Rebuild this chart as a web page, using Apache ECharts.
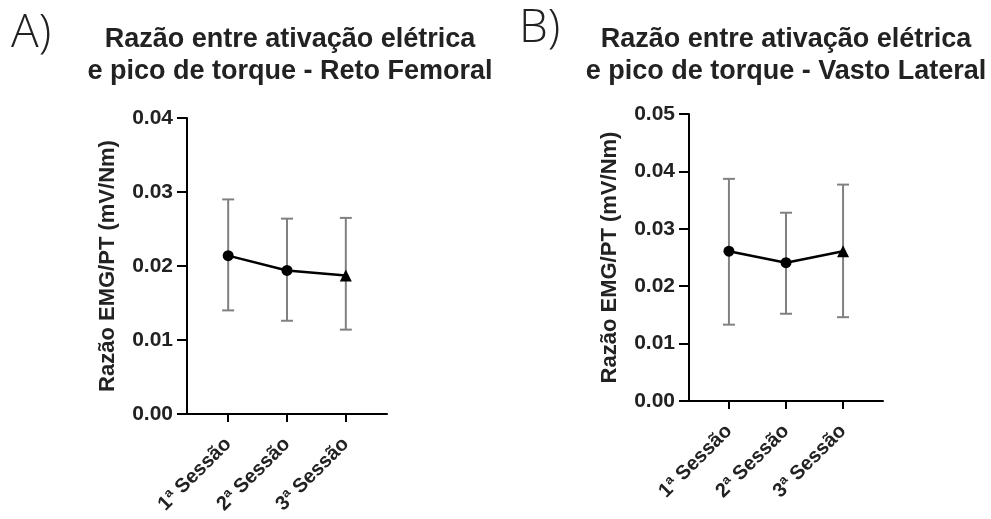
<!DOCTYPE html>
<html>
<head>
<meta charset="utf-8">
<script src="https://cdn.jsdelivr.net/npm/echarts@6.0.0/dist/echarts.min.js"></script>
<style>
  html, body { margin: 0; padding: 0; background: #fff; }
  #chart { width: 991px; height: 519px; }
</style>
</head>
<body>
<div id="chart"></div>
<script>
// sessions on the x axis
var sessoes = ['1ª Sessão', '2ª Sessão', '3ª Sessão'];
var simbolos = ['circle', 'circle', 'triangle'];

// A) Reto Femoral
var rfMedia = [0.0214, 0.0194, 0.0187];
var rfMin = [0.0140, 0.0126, 0.0114];
var rfMax = [0.0290, 0.0264, 0.0265];

// B) Vasto Lateral
var vlMedia = [0.0261, 0.0241, 0.0261];
var vlMin = [0.0133, 0.0152, 0.0146];
var vlMax = [0.0387, 0.0328, 0.0377];

var fonte = '"Liberation Sans", Arial, sans-serif';

function pontos(medias) {
    return medias.map(function (v, i) {
        return { value: [i, v], symbol: simbolos[i], symbolSize: simbolos[i] == 'triangle' ? 12 : 11 };
    });
}

function barras(mins, maxs) {
    return mins.map(function (v, i) { return [i, v, maxs[i]]; });
}

function renderBarra(params, api) {
    var lo = api.coord([api.value(0), api.value(1)]);
    var hi = api.coord([api.value(0), api.value(2)]);
    var w = 6;
    var estilo = { stroke: '#808080', lineWidth: 2 };
    return {
        type: 'group',
        children: [
            { type: 'line', shape: { x1: lo[0], y1: lo[1], x2: hi[0], y2: hi[1] }, style: estilo },
            { type: 'line', shape: { x1: lo[0] - w, y1: lo[1], x2: lo[0] + w, y2: lo[1] }, style: estilo },
            { type: 'line', shape: { x1: hi[0] - w, y1: hi[1], x2: hi[0] + w, y2: hi[1] }, style: estilo }
        ]
    };
}

function eixoX(idx) {
    return {
        type: 'value',
        gridIndex: idx,
        min: -0.7,
        max: 2.7,
        axisLine: { onZero: false, lineStyle: { color: '#000', width: 2 } },
        axisTick: { customValues: [0, 1, 2], length: 8, lineStyle: { color: '#000', width: 2 } },
        axisLabel: {
            customValues: [0, 1, 2],
            rotate: 45,
            margin: 27,
            color: '#222',
            fontFamily: fonte,
            fontWeight: 'bold',
            fontSize: 20,
            formatter: function (v) { return sessoes[v]; }
        },
        splitLine: { show: false }
    };
}

function eixoY(idx, max) {
    return {
        type: 'value',
        gridIndex: idx,
        min: 0,
        max: max,
        interval: 0.01,
        name: 'Razão EMG/PT (mV/Nm)',
        nameLocation: 'middle',
        nameGap: 68,
        nameTextStyle: { color: '#222', fontFamily: fonte, fontWeight: 'bold', fontSize: 22 },
        axisLine: { show: true, onZero: false, lineStyle: { color: '#000', width: 2 } },
        axisTick: { show: true, length: 10, lineStyle: { color: '#000', width: 2 } },
        axisLabel: {
            margin: 14,
            color: '#222',
            fontFamily: fonte,
            fontWeight: 'bold',
            fontSize: 21,
            formatter: function (v) { return v.toFixed(2); }
        },
        splitLine: { show: false }
    };
}

var tituloEstilo = { color: '#222', fontFamily: fonte, fontWeight: 'bold', fontSize: 27, lineHeight: 32 };
var letraEstilo = { color: '#222', fontFamily: '"Open Sans", sans-serif', fontWeight: 300, fontSize: 46 };

var chart = echarts.init(document.getElementById('chart'));
var option = {
    animation: false,
    title: [
        { text: 'A)', left: 6, top: 6, textStyle: letraEstilo },
        { text: 'B)', left: 514, top: 1, textStyle: letraEstilo },
        { text: 'Razão entre ativação elétrica\ne pico de torque - Reto Femoral', left: 285, top: 19, textAlign: 'center', textStyle: tituloEstilo },
        { text: 'Razão entre ativação elétrica\ne pico de torque - Vasto Lateral', left: 781, top: 19, textAlign: 'center', textStyle: tituloEstilo }
    ],
    grid: [
        { left: 187, top: 118, width: 200, height: 296 },
        { left: 689, top: 114, width: 194, height: 287 }
    ],
    xAxis: [eixoX(0), eixoX(1)],
    yAxis: [eixoY(0, 0.04), eixoY(1, 0.05)],
    series: [
        { type: 'custom', xAxisIndex: 0, yAxisIndex: 0, renderItem: renderBarra, data: barras(rfMin, rfMax), z: 1 },
        { type: 'line', xAxisIndex: 0, yAxisIndex: 0, data: pontos(rfMedia), z: 3,
          lineStyle: { color: '#000', width: 2.5 }, itemStyle: { color: '#000' } },
        { type: 'custom', xAxisIndex: 1, yAxisIndex: 1, renderItem: renderBarra, data: barras(vlMin, vlMax), z: 1 },
        { type: 'line', xAxisIndex: 1, yAxisIndex: 1, data: pontos(vlMedia), z: 3,
          lineStyle: { color: '#000', width: 2.5 }, itemStyle: { color: '#000' } }
    ]
};
chart.setOption(option);
</script>
</body>
</html>
